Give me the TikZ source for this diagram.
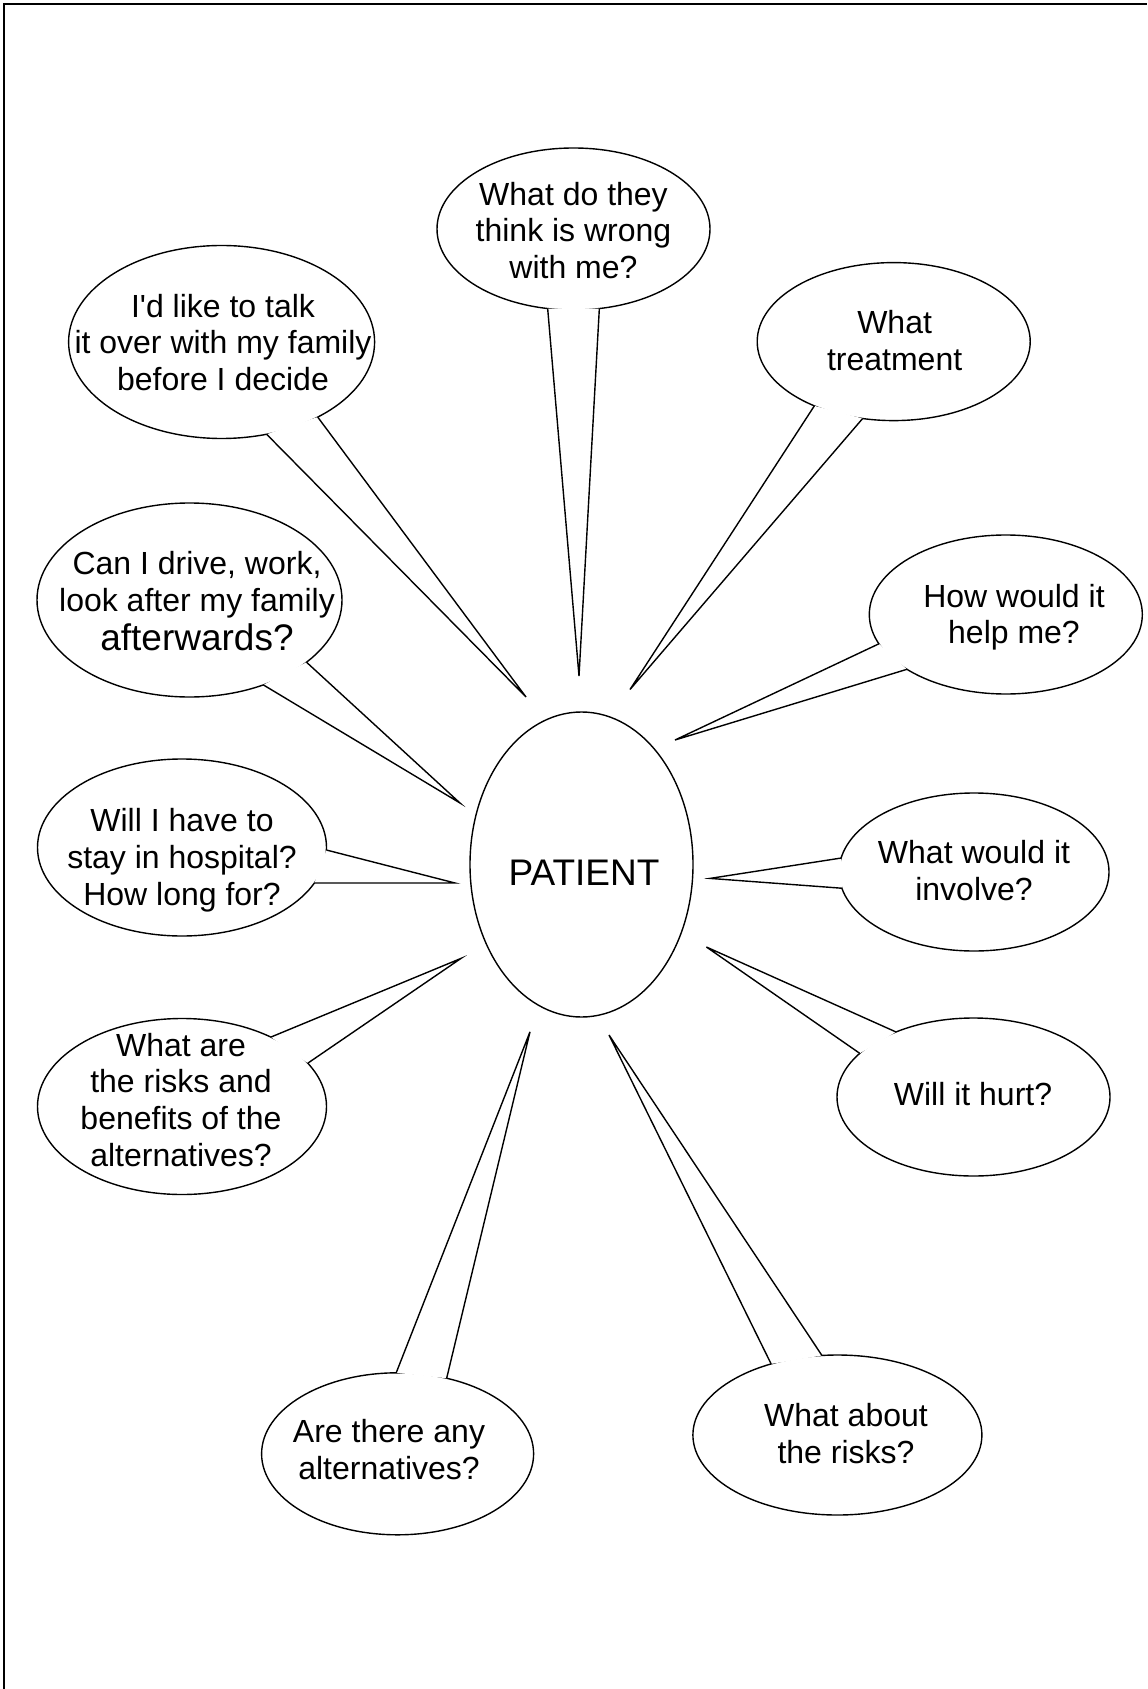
\documentclass[tikz,border=0pt]{standalone}
\usepackage{fontspec}
\setmainfont{Liberation Sans}[Ligatures=TeXOff]
\usetikzlibrary{shapes.geometric}
\newcommand\qfont{\fontsize{16}{18.4}\selectfont}
\newcommand\bigqfont{\fontsize{18.5}{21.3}\selectfont}
\newcommand\calltail[3]{%
  \fill[white] (#1) -- (#2) -- (#3) -- cycle;
  \draw[tail] (#1) -- (#2) -- (#3);}
\begin{document}
\begin{tikzpicture}[x=0.5pt,y=-0.5pt,
  bubble/.style={ellipse, draw, line width=0.7pt, fill=white, inner sep=0pt, outer sep=0pt},
  qtext/.style={font=\qfont, align=center, inner sep=0pt},
  tail/.style={line width=0.7pt, line join=miter},
  frame/.style={line width=0.9pt}]
\useasboundingbox (0,0) rectangle (1147,1689);
\draw[frame] (4,1689) -- (4,4) -- (1147,4);

% central ellipse
\node[bubble, minimum width=111.5pt, minimum height=152.5pt] (p) at (581.5,864.5) {};

% callout ellipses
\node[bubble, minimum width=136.5pt, minimum height=81pt] (e1) at (573.5,229) {};
\node[bubble, minimum width=153pt, minimum height=96.5pt] (e2) at (221.6,342) {};
\node[bubble, minimum width=136.5pt, minimum height=79pt] (e3) at (893.7,341.6) {};
\node[bubble, minimum width=136.5pt, minimum height=79.5pt] (e4) at (1005.8,614.5) {};
\node[bubble, minimum width=152.5pt, minimum height=97pt] (e5) at (189.5,600) {};
\node[bubble, minimum width=144.5pt, minimum height=88.5pt] (e6) at (182,847.5) {};
\node[bubble, minimum width=135pt, minimum height=79pt] (e7) at (974,872) {};
\node[bubble, minimum width=136.5pt, minimum height=79pt] (e8) at (973.5,1097) {};
\node[bubble, minimum width=144.5pt, minimum height=88pt] (e9) at (182,1106.5) {};
\node[bubble, minimum width=136pt, minimum height=81pt] (e10) at (397.6,1453.8) {};
\node[bubble, minimum width=144.5pt, minimum height=80pt] (e11) at (837.4,1435) {};

% tail tips
\coordinate (k1) at (579,676);
\coordinate (k2) at (526,697);
\coordinate (k3) at (630,689.5);
\coordinate (k4) at (675,740);
\coordinate (k5) at (460,803);
\coordinate (k6) at (455,883);
\coordinate (k7) at (710,878.4);
\coordinate (k8) at (706.4,947);
\coordinate (k9) at (461,958.4);
\coordinate (k10) at (530,1031.8);
\coordinate (k11) at (609,1035);

% tails
\calltail{e1.252.2}{k1}{e1.288.3}
\calltail{e2.296.8}{k2}{e2.322.7}
\calltail{e3.219.3}{k3}{e3.248.8}
\calltail{e4.193.6}{k4}{e4.209.8}
\calltail{e5.332.4}{k5}{e5.311.6}
\calltail{e6.359.4}{k6}{e6.345.1}
\calltail{e7.174.9}{k7}{e7.187.8}
\calltail{e8.140.5}{k8}{e8.159.4}
\calltail{e9.38.1}{k9}{e9.19.3}
\calltail{e10.91.1}{k10}{e10.57.1}
\calltail{e11.133.9}{k11}{e11.101.9}

% texts
\node[font=\bigqfont, anchor=base, inner sep=0pt] (pt) at (584,885) {PATIENT};
\node[qtext] (t1) at (573.5,234.6) {\strut What do they\\\strut think is wrong\\\strut with me?};
\node[qtext] (t2) at (223,346.6) {\strut I'd like to talk\\\strut it over with my family\\\strut before I decide};
\node[qtext] (t3) at (894.6,345) {\strut What\\\strut treatment};
\node[qtext] (t4) at (1014,618.1) {\strut How would it\\\strut help me?};
\node[qtext] (t5) at (197,586) {\strut Can I drive, work,\\\strut look after my family};
\node[font=\bigqfont, anchor=base, inner sep=0pt] (t5b) at (197,650) {afterwards?};
\node[qtext] (t6) at (182,861.1) {\strut Will I have to\\\strut stay in hospital?\\\strut How long for?};
\node[qtext] (t7) at (974,875) {\strut What would it\\\strut involve?};
\node[qtext, anchor=base] (t8) at (973,1105) {Will it hurt?};
\node[qtext] (t9) at (181,1103.9) {\strut What are\\\strut the risks and\\\strut benefits of the\\\strut alternatives?};
\node[qtext] (t10) at (389,1454) {\strut Are there any\\\strut alternatives?};
\node[qtext] (t11) at (846,1437.6) {\strut What about\\\strut the risks?};
\end{tikzpicture}
\end{document}
